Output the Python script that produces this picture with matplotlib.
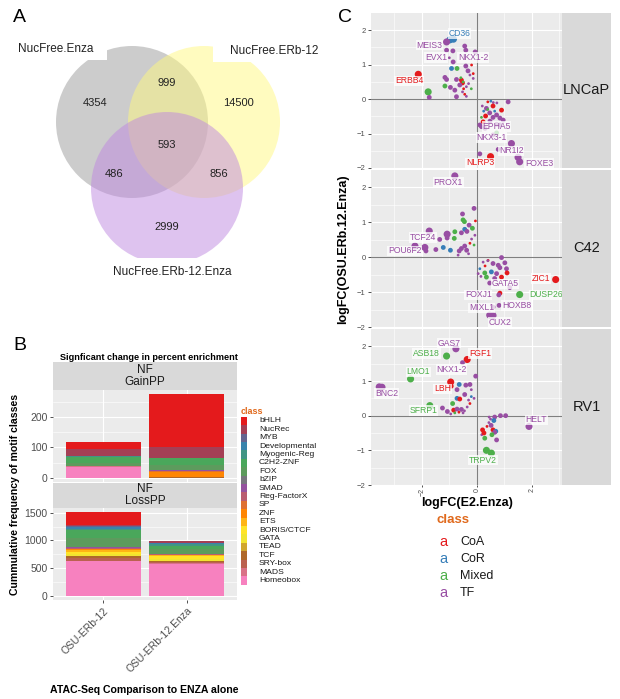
import numpy as np
import matplotlib
matplotlib.use("Agg")
import matplotlib.pyplot as plt
from matplotlib.patches import Circle, Rectangle

plt.rcParams["font.family"] = ["Liberation Sans", "DejaVu Sans"]

# ── data ──────────────────────────────────────────────────────────────────────

# Panel A: venn region counts
venn_labels = ["NucFree.Enza", "NucFree.ERb-12", "NucFree.ERb-12.Enza"]
venn_counts = {"100": 4354, "010": 14500, "001": 2999, "110": 999,
               "101": 486, "011": 856, "111": 593}

# Panel B: stacked motif class counts
motif_classes = ["bHLH", "NucRec", "MYB", "Developmental", "Myogenic-Reg", "C2H2-ZNF",
                 "FOX", "bZIP", "SMAD", "Reg-FactorX", "SP", "ZNF", "ETS", "BORIS/CTCF",
                 "GATA", "TEAD", "TCF", "SRY-box", "MADS", "Homeobox"]
comparisons = ["OSU-ERb-12", "OSU-ERb-12.Enza"]
gain_erb12 = [24, 22, 0, 3, 2, 19, 10, 0, 0, 0, 0, 0, 0, 0, 0, 0, 0, 0, 2, 37]
gain_erb12_enza = [174, 37, 0, 0, 0, 22, 15, 0, 6, 0, 2, 15, 0, 0, 0, 0, 4, 0, 0, 0]
loss_erb12 = [223, 30, 18, 29, 25, 139, 169, 0, 10, 15, 10, 20, 22, 45, 30, 15, 28, 50, 0, 632]
loss_erb12_enza = [10, 30, 0, 25, 20, 60, 100, 0, 0, 10, 0, 10, 10, 50, 40, 0, 10, 30, 10, 578]

# Panel C: logFC scatter per cell line (x = E2.Enza, y = OSU.ERb.12.Enza, w = point weight)
lncap_x = [-0.98, -0.85, -1.10, -0.44, -0.40, -1.10, -0.87, -0.06, -0.86, -0.92, -0.72, -0.40,
           -0.19, -0.13, -0.32, -0.25, -0.13, -2.13, -1.16, -1.10, -0.74, -0.56, -0.52, -0.50,
           -0.62, -0.38, -1.16, -0.96, -0.80, -0.48, -0.52, -0.44, -1.77, -1.73, -0.74, -0.38,
           -0.30, -0.20, -0.58, -1.00,
           1.14, 0.51, 0.60, 0.73, 0.40, 0.59, 0.90, 0.35, 0.47, 0.72, 0.17, 0.32, 0.59, 0.84,
           0.48, 0.96, 0.23, 0.72, 0.11, 0.30, 0.17, 0.72, 0.59, 1.26, 0.78, 0.11, 0.50, 1.50,
           1.56, 0.25, 0.40, 0.65, 0.20, 0.85]
lncap_y = [1.72, 1.74, 1.66, 1.54, 1.42, 1.42, 1.40, 1.37, 1.08, 0.89, 0.89, 0.96,
           0.99, 0.74, 0.82, 0.70, 0.60, 0.72, 0.63, 0.57, 0.57, 0.55, 0.47, 0.50,
           0.41, 0.36, 0.38, 0.34, 0.26, 0.30, 0.21, 0.14, 0.21, 0.05, 0.07, 0.08,
           0.45, 0.30, 0.62, 1.20,
           -0.08, -0.06, -0.10, -0.11, -0.08, -0.20, -0.32, -0.27, -0.40, -0.46, -0.53, -0.49,
           -0.53, -0.55, -0.64, -0.61, -0.66, -0.73, -0.75, -0.85, -0.80, -0.98, -1.04, -1.29,
           -1.46, -1.59, -1.67, -1.69, -1.82, -0.35, -0.30, -0.35, -0.20, -0.75]
lncap_cls = ["CoR", "CoR", "TF", "TF", "TF", "TF", "TF", "TF", "TF", "CoR", "Mixed", "TF",
             "CoA", "CoA", "TF", "TF", "TF", "CoA", "TF", "TF", "TF", "CoA", "CoA", "Mixed",
             "TF", "TF", "Mixed", "TF", "TF", "CoA", "TF", "CoA", "Mixed", "TF", "TF", "TF",
             "TF", "Mixed", "Mixed", "TF",
             "TF", "CoR", "TF", "TF", "CoA", "CoA", "CoA", "TF", "TF", "TF", "Mixed", "CoA",
             "TF", "TF", "TF", "TF", "CoA", "TF", "TF", "TF", "TF", "Mixed", "TF", "TF",
             "TF", "TF", "CoA", "TF", "TF", "CoR", "Mixed", "CoR", "TF", "TF"]
lncap_w = [3, 3, 3, 2, 2, 2, 2, 2, 2, 2, 2, 2,
           1, 1, 2, 1, 1, 3, 2, 2, 2, 2, 2, 1,
           2, 1, 2, 2, 2, 1, 1, 1, 3, 2, 2, 1,
           1, 1, 1, 1,
           2, 1, 1, 1, 1, 2, 2, 2, 2, 2, 1, 2, 2, 2,
           2, 2, 2, 2, 2, 2, 2, 2, 2, 3, 2, 2, 3, 3,
           3, 1, 1, 1, 1, 2]

c42_x = [-0.80, -0.10, -0.52, -0.50, -0.45, -0.05, -0.28, -0.16, -0.80, -0.44, -0.56, -0.36,
         -0.82, -0.07, -0.19, -1.73, -1.35, -1.08, -1.08, -2.25, -1.89, -1.85, -1.49, -1.22,
         -0.96, -0.56, -0.44, -0.64, -0.37, -0.68, -0.25, -0.10, -0.30,
         0.90, 0.23, 0.41, 0.59, 0.78, 1.02, 1.08, 1.10, 0.11, 0.05, 0.29, 0.35, 0.53, 0.72,
         0.84, 0.47, 0.65, 0.90, 1.20, 2.87, 1.56, 0.84, 0.80, 0.81, 0.59, 0.47, 0.59,
         0.40, 0.30, 0.15]
c42_y = [2.33, 1.40, 1.24, 1.07, 1.02, 1.04, 0.92, 0.83, 0.73, 0.80, 0.70, 0.74,
         0.54, 0.63, 0.52, 0.75, 0.51, 0.66, 0.55, 0.32, 0.28, 0.18, 0.22, 0.28,
         0.20, 0.25, 0.32, 0.18, 0.20, 0.06, 0.40, 0.35, 0.10,
         -0.01, -0.14, -0.09, -0.18, -0.23, -0.16, -0.33, -0.45, -0.33, -0.47, -0.45, -0.57,
         -0.42, -0.47, -0.30, -0.74, -0.61, -0.57, -0.87, -0.64, -1.07, -1.03, -1.08, -1.38,
         -1.43, -1.66, -1.67, -0.10, -0.25, -0.55]
c42_cls = ["TF", "TF", "TF", "Mixed", "Mixed", "CoA", "TF", "Mixed", "Mixed", "CoR", "TF", "TF",
           "Mixed", "TF", "TF", "TF", "TF", "TF", "TF", "TF", "TF", "TF", "TF", "CoR",
           "CoR", "TF", "TF", "TF", "TF", "TF", "CoA", "Mixed", "TF",
           "TF", "TF", "CoA", "TF", "TF", "TF", "TF", "CoA", "CoR", "TF", "Mixed", "Mixed",
           "CoR", "TF", "TF", "TF", "TF", "CoA", "TF", "CoA", "Mixed", "CoA", "TF", "TF",
           "TF", "TF", "TF", "TF", "CoA", "TF"]
c42_w = [3, 2, 2, 2, 2, 1, 2, 2, 2, 2, 2, 2,
         2, 1, 1, 3, 2, 3, 2, 3, 3, 2, 2, 2,
         2, 2, 2, 2, 2, 1, 1, 1, 1,
         2, 1, 1, 2, 2, 2, 2, 2, 1, 1, 2, 2, 2, 2,
         2, 2, 2, 2, 2, 3, 3, 2, 2, 2, 2, 3, 3,
         1, 1, 1]

rv1_x = [-0.76, -1.10, -0.35, -0.52, -0.04, -2.41, -3.55, -3.45, -0.95, -0.93, -0.64, -0.25,
         -0.40, -0.72, -0.20, -0.72, -0.62, -0.44, -0.30, -0.10, -0.20, -0.25, -1.71, -0.88,
         -1.25, -1.07, -0.84, -0.72, -0.56, -0.45, -0.65, -0.80, -0.50, -0.35, -0.95,
         0.86, 1.05, 0.65, 0.45, 0.50, 0.62, 0.44, 0.52, 0.37, 0.59, 0.69, 0.65, 0.72,
         0.29, 0.21, 0.18, 0.26, 0.55, 1.90, 0.35, 0.53]
rv1_y = [1.93, 1.72, 1.62, 1.53, 1.14, 1.06, 0.83, 0.82, 0.97, 0.85, 0.90, 0.90,
         0.88, 0.75, 0.75, 0.50, 0.48, 0.61, 0.45, 0.50, 0.55, 0.35, 0.29, 0.35,
         0.22, 0.12, 0.16, 0.19, 0.18, 0.14, 0.10, 0.08, 0.08, 0.25, 0.05,
         0.00, 0.00, -0.04, -0.04, -0.10, -0.14, -0.20, -0.28, -0.31, -0.41, -0.45, -0.48, -0.70,
         -0.65, -0.41, -0.55, -0.50, -0.55, -0.31, -1.00, -1.08]
rv1_cls = ["TF", "Mixed", "CoA", "TF", "TF", "Mixed", "TF", "TF", "CoA", "CoA", "CoR", "TF",
           "TF", "TF", "TF", "CoR", "CoA", "TF", "TF", "TF", "CoR", "CoA", "Mixed", "Mixed",
           "TF", "TF", "CoA", "TF", "TF", "TF", "CoA", "Mixed", "TF", "TF", "TF",
           "TF", "TF", "TF", "TF", "TF", "CoR", "TF", "TF", "CoA", "CoA", "CoR", "TF", "TF",
           "Mixed", "CoA", "TF", "CoA", "Mixed", "TF", "Mixed", "Mixed"]
rv1_w = [3, 3, 3, 2, 2, 3, 3, 3, 3, 2, 2, 2,
         2, 2, 1, 2, 2, 2, 1, 1, 1, 1, 3, 2,
         2, 2, 2, 2, 2, 1, 1, 1, 1, 1, 1,
         2, 2, 2, 1, 1, 2, 1, 2, 1, 2, 2, 2, 2,
         2, 2, 1, 2, 2, 3, 3, 3]

# labelled genes per cell line (gene, class)
lncap_genes = [("CD36", "CoR"), ("MEIS3", "TF"), ("EVX1", "TF"), ("NKX1-2", "TF"),
               ("ERBB4", "CoA"), ("EPHA5", "TF"), ("NKX3-1", "TF"), ("NR1I2", "TF"),
               ("NLRP3", "CoA"), ("FOXE3", "TF")]
c42_genes = [("PROX1", "TF"), ("TCF24", "TF"), ("POU6F2", "TF"), ("GATA5", "TF"),
             ("ZIC1", "CoA"), ("FOXJ1", "TF"), ("DUSP26", "Mixed"), ("MIXL1", "TF"),
             ("HOXB8", "TF"), ("CUX2", "TF")]
rv1_genes = [("GAS7", "TF"), ("ASB18", "Mixed"), ("FGF1", "CoA"), ("NKX1-2", "TF"),
             ("LMO1", "Mixed"), ("LBH", "CoA"), ("BNC2", "TF"), ("SFRP1", "Mixed"),
             ("HELT", "TF"), ("TRPV2", "Mixed")]

# ── layout / style ────────────────────────────────────────────────────────────

W, H = 620, 699
PANEL_BG = "#ebebeb"
STRIP_BG = "#d9d9d9"
TICK_COL = "#4d4d4d"
CLASS_COL = {"CoA": "#e41a1c", "CoR": "#377eb8", "Mixed": "#4daf4a", "TF": "#984ea3"}
W_SIZE = {1: 4, 2: 12, 3: 26}

# label anchor (data coords) for each labelled gene
LABEL_POS = {
    "LNCaP": [(-0.64, 1.90), (-1.73, 1.57), (-1.49, 1.21), (-0.13, 1.21), (-2.46, 0.53),
              (0.72, -0.80), (0.53, -1.11), (1.26, -1.50), (0.11, -1.85), (2.27, -1.86)],
    "C42": [(-1.04, 2.14), (-1.95, 0.57), (-2.62, 0.18), (1.02, -0.76), (2.32, -0.61),
            (0.05, -1.08), (2.53, -1.08), (0.17, -1.45), (1.44, -1.38), (0.84, -1.86)],
    "RV1": [(-1.01, 2.09), (-1.83, 1.79), (0.11, 1.79), (-0.92, 1.33), (-2.13, 1.26),
            (-1.25, 0.77), (-3.28, 0.64), (-1.95, 0.15), (2.17, -0.12), (0.23, -1.28)],
}


def set1_ramp(n):
    base = ["#E41A1C", "#377EB8", "#4DAF4A", "#984EA3", "#FF7F00", "#FFFF33", "#A65628", "#F781BF"]
    rgb = np.array([matplotlib.colors.to_rgb(c) for c in base])
    t = np.linspace(0, len(base) - 1, n)
    return [tuple(np.interp(v, np.arange(len(base)), rgb[:, k]) for k in range(3)) for v in t]


def px_axes(fig, x0, y0, x1, y1):
    return fig.add_axes([x0 / W, 1 - y1 / H, (x1 - x0) / W, (y1 - y0) / H])


def gg_style(ax):
    ax.set_facecolor(PANEL_BG)
    for s in ax.spines.values():
        s.set_visible(False)
    ax.tick_params(length=2.5, width=0.6, color="#333333", labelcolor=TICK_COL, pad=1.5)
    ax.grid(True, which="major", color="white", lw=0.8)
    ax.grid(True, which="minor", color="white", lw=0.4)
    ax.set_axisbelow(True)


def strip(fig, x0, y0, x1, y1, text, size, rotation=0):
    sa = px_axes(fig, x0, y0, x1, y1)
    sa.set_facecolor(STRIP_BG)
    sa.set_xticks([])
    sa.set_yticks([])
    for s in sa.spines.values():
        s.set_visible(False)
    sa.text(0.5, 0.5, text, ha="center", va="center", fontsize=size, color="#1a1a1a",
            rotation=rotation, transform=sa.transAxes, linespacing=1.0)
    return sa


fig = plt.figure(figsize=(W / 100, H / 100), dpi=100)

# ── panel A: venn ─────────────────────────────────────────────────────────────
axA = px_axes(fig, 0, 0, 330, 300)
axA.set_xlim(0, 330)
axA.set_ylim(300, 0)
axA.axis("off")
for (cx, cy), col in zip([(132, 122), (204, 122), (167, 188)], ["#9a9a9a", "#fff880", "#bf88e0"]):
    axA.add_patch(Circle((cx, cy), 76, fc=col, ec="none", alpha=0.5))
# label backgrounds clip the circles
for rx, ry, rw, rh in [(0, 0, 107, 60), (213, 0, 117, 62), (0, 258, 330, 42)]:
    axA.add_patch(Rectangle((rx, ry), rw, rh, fc="white", ec="none", zorder=2))
axA.text(18, 49, venn_labels[0], fontsize=8.5, va="center", color="#222222", zorder=3)
axA.text(230, 51, venn_labels[1], fontsize=8.5, va="center", color="#222222", zorder=3)
axA.text(172, 272, venn_labels[2], fontsize=8.5, ha="center", va="center", color="#222222", zorder=3)
for key, (tx, ty) in {"100": (95, 103), "010": (238, 103), "001": (167, 227), "110": (167, 83),
                      "101": (114, 174), "011": (219, 174), "111": (167, 145)}.items():
    axA.text(tx, ty, str(venn_counts[key]), fontsize=8, ha="center", va="center", color="#222222", zorder=3)
fig.text(13 / W, 1 - 18 / H, "A", fontsize=14, va="center")

# ── panel B: stacked bars ─────────────────────────────────────────────────────
fig.text(13 / W, 1 - 345 / H, "B", fontsize=14, va="center")
fig.text(149 / W, 1 - 357 / H, "Signficant change in percent enrichment", fontsize=6.6,
         fontweight="bold", ha="center", va="center")
cols20 = set1_ramp(len(motif_classes))
xpos = np.arange(1, len(comparisons) + 1)
panels_B = [
    ("NF\nGainPP", (362, 390, 482), [gain_erb12, gain_erb12_enza], (-14, 289), [0, 100, 200], [50, 150, 250]),
    ("NF\nLossPP", (483, 508, 600), [loss_erb12, loss_erb12_enza], (-75, 1585), [0, 500, 1000, 1500], [250, 750, 1250]),
]
for i, (title, (ys, y0, y1), series, ylim, maj, mnr) in enumerate(panels_B):
    strip(fig, 53, ys, 237, y0, title, 8.5)
    ax = px_axes(fig, 53, y0, 237, y1)
    gg_style(ax)
    vals = np.array(series, dtype=float)  # (bars, classes)
    bottom = np.zeros(len(comparisons))
    for k in range(len(motif_classes) - 1, -1, -1):
        ax.bar(xpos, vals[:, k], 0.9, bottom=bottom, color=cols20[k], lw=0)
        bottom += vals[:, k]
    ax.set_xlim(0.4, 2.6)
    ax.set_ylim(*ylim)
    ax.set_yticks(maj)
    ax.set_yticks(mnr, minor=True)
    ax.tick_params(axis="y", which="minor", length=0)
    ax.tick_params(axis="y", labelsize=7.5)
    ax.set_xticks(xpos)
    if i == 0:
        ax.tick_params(axis="x", labelbottom=False, length=0)
    else:
        ax.set_xticklabels(comparisons, rotation=45, ha="right", va="top",
                           rotation_mode="anchor", fontsize=7.5)
fig.text(15 / W, 1 - 494 / H, "Cummulative frequency of motif classes", fontsize=7.6,
         fontweight="bold", rotation=90, ha="center", va="center")
fig.text(144 / W, 1 - 690 / H, "ATAC-Seq Comparison to ENZA alone", fontsize=7.6,
         fontweight="bold", ha="center", va="center")
# legend B
fig.text(241 / W, 1 - 411 / H, "class", fontsize=6.5, fontweight="bold", color="#e0691c", va="center")
for k, name in enumerate(motif_classes):
    yc = 421 + k * 8.4
    fig.patches.append(Rectangle((241 / W, 1 - (yc + 4.2) / H), 5.5 / W, 8.4 / H,
                                 fc=cols20[k], ec="none", transform=fig.transFigure, figure=fig))
    fig.text(259 / W, 1 - yc / H, name, fontsize=6.1, va="center", color="#1a1a1a")

# ── panel C: faceted scatter ──────────────────────────────────────────────────
fig.text(338 / W, 1 - 18 / H, "C", fontsize=14, va="center")
facets = [
    ("LNCaP", (13, 168), lncap_x, lncap_y, lncap_cls, lncap_w, lncap_genes),
    ("C42", (170, 327), c42_x, c42_y, c42_cls, c42_w, c42_genes),
    ("RV1", (329, 485), rv1_x, rv1_y, rv1_cls, rv1_w, rv1_genes),
]
for i, (name, (y0, y1), xs, ys, cls, ws, genes) in enumerate(facets):
    ax = px_axes(fig, 371, y0, 562, y1)
    gg_style(ax)
    ax.set_xlim(-3.85, 3.1)
    ax.set_ylim(-2.0, 2.5)
    ax.set_xticks([-2, 0, 2])
    ax.set_xticks([-3, -1, 1, 3], minor=True)
    ax.set_yticks([-2, -1, 0, 1, 2])
    ax.set_yticks([-1.5, -0.5, 0.5, 1.5], minor=True)
    ax.tick_params(which="minor", length=0)
    ax.tick_params(axis="y", labelsize=5.5)
    ax.axhline(0, color="#7f7f7f", lw=0.8, zorder=1)
    ax.axvline(0, color="#7f7f7f", lw=0.8, zorder=1)
    ax.scatter(xs, ys, s=[W_SIZE[w] for w in ws], c=[CLASS_COL[c] for c in cls],
               lw=0, zorder=3, clip_on=False)
    for (gene, gc), (lx, ly) in zip(genes, LABEL_POS[name]):
        ax.text(lx, ly, gene, fontsize=6.2, color=CLASS_COL[gc], ha="center", va="center", zorder=4,
                bbox=dict(boxstyle="square,pad=0.08", fc="white", ec="none", alpha=0.75))
    if i < 2:
        ax.tick_params(axis="x", labelbottom=False, length=0)
    else:
        ax.tick_params(axis="x", labelsize=5, labelrotation=90, length=1.5, pad=0.5)
    strip(fig, 562, y0, 611, y1, name, 10.5)
fig.text(343 / W, 1 - 249 / H, "logFC(OSU.ERb.12.Enza)", fontsize=9, fontweight="bold",
         rotation=90, ha="center", va="center")
fig.text(467 / W, 1 - 503 / H, "logFC(E2.Enza)", fontsize=9, fontweight="bold",
         ha="center", va="center")
# legend C
fig.text(453 / W, 1 - 520 / H, "class", fontsize=9.5, fontweight="bold", color="#e0691c",
         ha="center", va="center")
for k, c in enumerate(["CoA", "CoR", "Mixed", "TF"]):
    yc = 542 + k * 17
    fig.text(443 / W, 1 - yc / H, "a", fontsize=10.5, color=CLASS_COL[c], ha="center", va="center")
    fig.text(460 / W, 1 - yc / H, c, fontsize=9, color="#1a1a1a", va="center")

fig.savefig("out.png", dpi=100)
